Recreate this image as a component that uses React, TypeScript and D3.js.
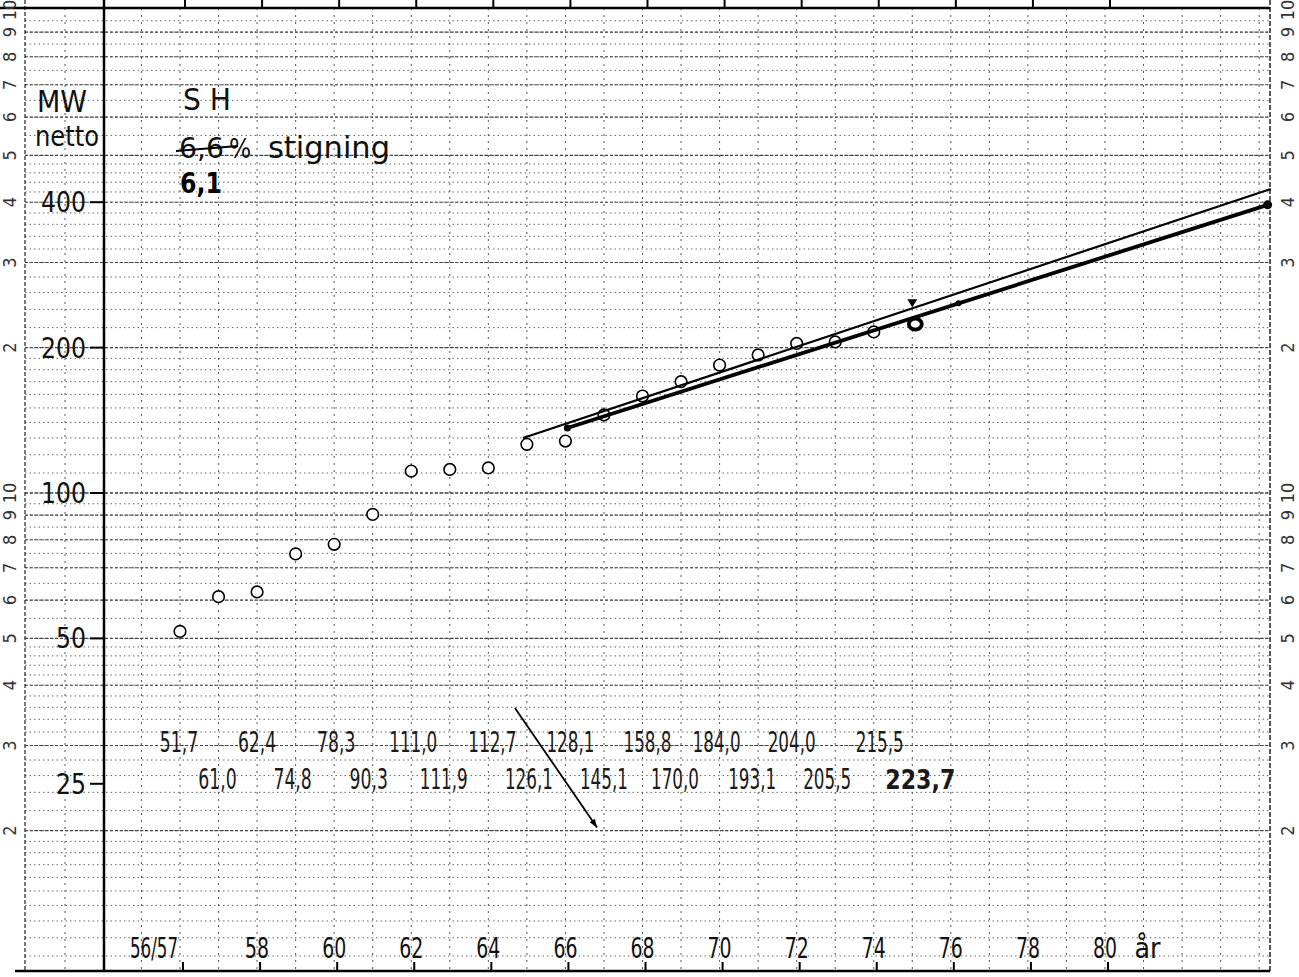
import React from 'react';
import * as d3 from 'd3';

// ---- data ----
const years = [56, 57, 58, 59, 60, 61, 62, 63, 64, 65, 66, 67, 68, 69, 70, 71, 72, 73, 74, 75];
const values = [51.7, 61.0, 62.4, 74.8, 78.3, 90.3, 111.0, 111.9, 112.7, 126.1, 128.1, 145.1, 158.8, 170.0, 184.0, 193.1, 204.0, 205.5, 215.5, 223.7];
const xTickYears = [56, 58, 60, 62, 64, 66, 68, 70, 72, 74, 76, 78, 80];
const xTickLabels = ['56/57', '58', '60', '62', '64', '66', '68', '70', '72', '74', '76', '78', '80'];
const yTickValues = [25, 50, 100, 200, 400];
const yTickLabels = ['25', '50', '100', '200', '400'];
const thinTrend = [{ year: 64.9, value: 130.0 }, { year: 84.3, value: 426 }];
const boldTrend = [{ year: 66.05, value: 136.3 }, { year: 84.22, value: 395 }];
const noteArrow = [{ year: 64.69, value: 35.9 }, { year: 66.82, value: 20.3 }];

// ---- layout: small horizontal nudges of the typed table (px) ----
const tableDx = [-1, -1, 0, -3, 2, -4, 2, -6, 4, 2, 5, 0, 5, -6, -3, -6, -5, -8, 6, 8];

const W = 1299;
const H = 977;
const LEFT_AXIS = 104;
const MARGIN_LINE = 25;
const RIGHT = 1270;
const TOP = 8;
const BOTTOM = 971;

const x = d3.scaleLinear().domain([56, 80]).range([180, 1105]);
const y = d3.scaleLog().domain([100, 1000]).range([493, 10]);

const FONT = '"DejaVu Sans Condensed", "DejaVu Sans", "Liberation Sans", sans-serif';

function fmt(v: number) {
  return v.toFixed(1).replace('.', ',');
}

export default function App() {
  // graph paper horizontal lines
  const minorH: number[] = [];
  const majorH: number[] = [];
  [10, 100].forEach((d) => {
    for (let v = 1; v < 2 - 1e-9; v += 0.1) minorH.push(v * d);
    for (let v = 2; v < 5 - 1e-9; v += 0.2) minorH.push(v * d);
    for (let v = 5; v < 10 - 1e-9; v += 0.5) minorH.push(v * d);
    for (let k = 1; k <= 10; k++) majorH.push(k * d);
  });
  const hMinor = minorH.map((v) => y(v)).filter((p) => p > TOP + 2 && p < BOTTOM - 2);
  const hMajor = majorH.map((v) => y(v)).filter((p) => p > TOP + 2 && p < BOTTOM - 2);
  const vYears = d3.range(55, 85);

  const line = d3
    .line<{ year: number; value: number }>()
    .x((d) => x(d.year))
    .y((d) => y(d.value));

  const interp = (tr: { year: number; value: number }[], yr: number) => {
    const [a, b] = tr;
    const t = (yr - a.year) / (b.year - a.year);
    return a.value * Math.pow(b.value / a.value, t);
  };

  const marginLabels: { v: number; t: string }[] = [];
  [10, 100].forEach((d) => {
    for (let k = 2; k <= 10; k++) marginLabels.push({ v: k * d, t: String(k) });
  });

  const na0 = noteArrow[0];
  const na1 = noteArrow[1];
  const ax0 = x(na0.year), ay0 = y(na0.value), ax1 = x(na1.year), ay1 = y(na1.value);
  const ang = Math.atan2(ay1 - ay0, ax1 - ax0);

  const arrowX = x(75);
  const arrowY = y(interp(thinTrend, 75));

  return (
    <svg
      width={W}
      height={H}
      viewBox={`0 0 ${W} ${H}`}
      style={{ position: 'absolute', left: 0, top: 0, background: '#fff' }}
    >
      <rect x={0} y={0} width={W} height={H} fill="#fff" />
      {/* graph paper */}
      <g>
        {hMinor.map((p, i) => (
          <line key={'hm' + i} x1={MARGIN_LINE} x2={RIGHT} y1={p} y2={p} stroke="#666" strokeWidth={1} strokeDasharray="1.5 3" />
        ))}
        {hMajor.map((p, i) => (
          <line key={'hM' + i} x1={MARGIN_LINE} x2={RIGHT} y1={p} y2={p} stroke="#444" strokeWidth={1.1} strokeDasharray="3 2" />
        ))}
        {vYears.map((yr) => (
          <line key={'v' + yr} x1={x(yr)} x2={x(yr)} y1={TOP} y2={BOTTOM} stroke="#555" strokeWidth={1} strokeDasharray="2 5" />
        ))}
        <line x1={65} x2={65} y1={TOP} y2={BOTTOM} stroke="#555" strokeWidth={1} strokeDasharray="2 5" />
        <line x1={MARGIN_LINE} x2={MARGIN_LINE} y1={0} y2={BOTTOM} stroke="#222" strokeWidth={1.2} strokeDasharray="4 2" />
        <line x1={RIGHT} x2={RIGHT} y1={0} y2={BOTTOM} stroke="#222" strokeWidth={1.5} strokeDasharray="5 2" />
      </g>

      {/* frame */}
      <line x1={0} x2={RIGHT} y1={TOP} y2={TOP} stroke="#000" strokeWidth={2.5} />
      <line x1={15} x2={RIGHT} y1={BOTTOM} y2={BOTTOM} stroke="#000" strokeWidth={2.5} />
      <line x1={LEFT_AXIS} x2={LEFT_AXIS} y1={0} y2={BOTTOM} stroke="#000" strokeWidth={2.5} />
      {xTickYears.map((yr) => (
        <g key={'xt' + yr}>
          <line x1={x(yr) + 5} x2={x(yr) + 5} y1={0} y2={TOP} stroke="#000" strokeWidth={2} />
          <line x1={x(yr) + 3} x2={x(yr) + 3} y1={BOTTOM - 9} y2={BOTTOM} stroke="#000" strokeWidth={2} />
        </g>
      ))}

      {/* margin cycle numbers */}
      {marginLabels.map((m, i) => {
        const py = y(m.v);
        if (py < 2 || py > H - 2) return null;
        return (
          <g key={'ml' + i}>
            <text transform={`translate(16,${py}) rotate(-90)`} textAnchor="middle" fontFamily={FONT} fontSize={18} fill="#333">{m.t}</text>
            <text transform={`translate(1294,${py}) rotate(-90)`} textAnchor="middle" fontFamily={FONT} fontSize={18} fill="#333">{m.t}</text>
          </g>
        );
      })}

      {/* y tick labels */}
      {yTickValues.map((v, i) => (
        <g key={'yl' + i}>
          <text
            x={86}
            y={y(v) + 10}
            textAnchor="end"
            fontFamily={FONT}
            fontSize={28}
            fill="#111"
            textLength={yTickLabels[i].length * 15}
            lengthAdjust="spacingAndGlyphs"
          >
            {yTickLabels[i]}
          </text>
          <line x1={90} x2={LEFT_AXIS} y1={y(v)} y2={y(v)} stroke="#000" strokeWidth={2} />
        </g>
      ))}

      {/* x tick labels */}
      {xTickYears.map((yr, i) => (
        <text
          key={'xl' + yr}
          x={i === 0 ? x(yr) - 2 : x(yr)}
          y={958}
          textAnchor={i === 0 ? 'end' : 'middle'}
          fontFamily={FONT}
          fontSize={28}
          fill="#111"
          textLength={i === 0 ? 48 : 24}
          lengthAdjust="spacingAndGlyphs"
        >
          {xTickLabels[i]}
        </text>
      ))}
      <text x={x(81.1)} y={958} textAnchor="middle" fontFamily={FONT} fontSize={28} fill="#111" textLength={26} lengthAdjust="spacingAndGlyphs">år</text>

      {/* titles */}
      <text x={37} y={112} fontFamily={FONT} fontSize={30} fill="#111" textLength={50} lengthAdjust="spacingAndGlyphs">MW</text>
      <text x={35} y={146} fontFamily={FONT} fontSize={28} fill="#111" textLength={64} lengthAdjust="spacingAndGlyphs">netto</text>
      <text x={183} y={110} fontFamily={FONT} fontSize={30} fill="#111" textLength={48} lengthAdjust="spacingAndGlyphs">S H</text>
      <text x={179} y={158} fontFamily={FONT} fontSize={29} fill="#111" textLength={45} lengthAdjust="spacingAndGlyphs">6,6</text>
      <text x={229} y={158} fontFamily={FONT} fontSize={26} fill="#111">%</text>
      <text x={268} y={158} fontFamily={FONT} fontSize={31} fill="#111" textLength={122} lengthAdjust="spacingAndGlyphs">stigning</text>
      <line x1={176} x2={238} y1={151} y2={146} stroke="#000" strokeWidth={2.2} />
      <text x={180} y={193} fontFamily='"DejaVu Sans", sans-serif' fontWeight="bold" fontSize={28} fill="#000" textLength={42} lengthAdjust="spacingAndGlyphs">6,1</text>

      {/* typed table */}
      {values.map((v, i) => {
        const row = i % 2;
        const last = i === values.length - 1;
        const s = fmt(v);
        return (
          <text
            key={'tb' + i}
            x={x(years[i]) + tableDx[i]}
            y={row === 0 ? 752 : 789}
            textAnchor="middle"
            fontFamily={last ? '"DejaVu Sans", sans-serif' : FONT}
            fontWeight={last ? 'bold' : 'normal'}
            fontSize={last ? 27 : 29}
            fill="#1a1a1a"
            textLength={last ? 70 : s.length * 9.6}
            lengthAdjust="spacingAndGlyphs"
          >
            {s}
          </text>
        );
      })}

      {/* note arrow */}
      <line x1={ax0} y1={ay0} x2={ax1} y2={ay1} stroke="#000" strokeWidth={1.8} />
      <path
        d={`M${ax1},${ay1} L${ax1 - 9 * Math.cos(ang - 0.35)},${ay1 - 9 * Math.sin(ang - 0.35)} L${ax1 - 9 * Math.cos(ang + 0.35)},${ay1 - 9 * Math.sin(ang + 0.35)} Z`}
        fill="#000"
      />

      {/* data points */}
      {values.map((v, i) => {
        const last = i === values.length - 1;
        return last ? (
          <ellipse key={'p' + i} cx={x(years[i]) + 3} cy={y(v)} rx={6.5} ry={5.5} fill="#fff" stroke="#000" strokeWidth={3.8} />
        ) : (
          <circle key={'p' + i} cx={x(years[i])} cy={y(v)} r={5.8} fill="#fff" stroke="#000" strokeWidth={1.6} />
        );
      })}

      {/* trend lines (drawn over the points, as in the reference) */}
      <path d={line(thinTrend) || ''} fill="none" stroke="#000" strokeWidth={2.2} />
      <path d={line(boldTrend) || ''} fill="none" stroke="#000" strokeWidth={3.8} />
      <circle cx={x(boldTrend[0].year)} cy={y(boldTrend[0].value)} r={3.5} fill="#000" />
      <circle cx={x(boldTrend[1].year)} cy={y(boldTrend[1].value)} r={4.5} fill="#000" />
      <circle cx={x(76.2)} cy={y(interp(boldTrend, 76.2))} r={3} fill="#000" />
      <path d={`M${arrowX - 5},${arrowY - 9} L${arrowX + 5},${arrowY - 9} L${arrowX},${arrowY - 1} Z`} fill="#000" />
    </svg>
  );
}
